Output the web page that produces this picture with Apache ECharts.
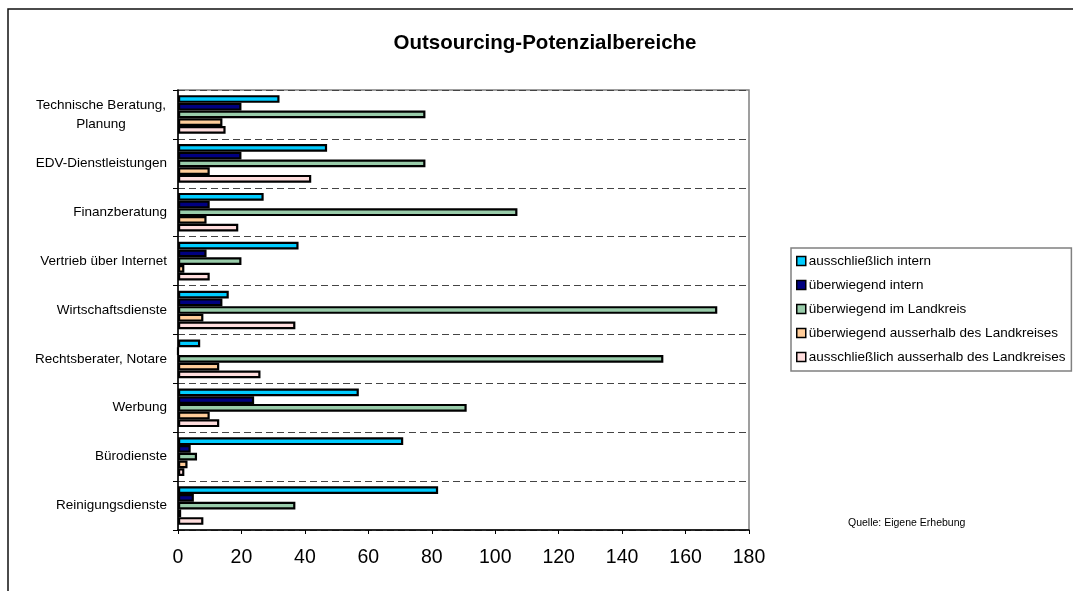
<!DOCTYPE html>
<html>
<head>
<meta charset="utf-8">
<script src="https://cdn.jsdelivr.net/npm/echarts@6/dist/echarts.min.js"></script>
<style>
  html, body { margin: 0; padding: 0; background: #fff; }
  #main { width: 1073px; height: 591px; }
</style>
</head>
<body>
<div id="main"></div>
<script>
// Kategorien (von oben nach unten)
var categories = [
  'Technische Beratung,\nPlanung',
  'EDV-Dienstleistungen',
  'Finanzberatung',
  'Vertrieb über Internet',
  'Wirtschaftsdienste',
  'Rechtsberater, Notare',
  'Werbung',
  'Bürodienste',
  'Reinigungsdienste'
]
var seriesNames = [
  'ausschließlich intern',
  'überwiegend intern',
  'überwiegend im Landkreis',
  'überwiegend ausserhalb des Landkreises',
  'ausschließlich ausserhalb des Landkreises'
]
var ausschliesslichIntern = [32, 47, 27, 38, 16, 7, 57, 71, 82]
var ueberwiegendIntern = [20, 20, 10, 9, 14, 0, 24, 4, 5]
var ueberwiegendLandkreis = [78, 78, 107, 20, 170, 153, 91, 6, 37]
var ueberwiegendAusserhalb = [14, 10, 9, 2, 8, 13, 10, 3, 1]
var ausschliesslichAusserhalb = [15, 42, 19, 10, 37, 26, 13, 2, 8]
var xTicks = [0, 20, 40, 60, 80, 100, 120, 140, 160, 180]

var colors = ['#00CCFF', '#000080', '#99CCAA', '#FFCC99', '#FFDDDD']
var values = [ausschliesslichIntern, ueberwiegendIntern, ueberwiegendLandkreis,
  ueberwiegendAusserhalb, ausschliesslichAusserhalb]

var font = 'Arial, "Liberation Sans", sans-serif'

var series = seriesNames.map(function (name, i) {
  return {
    name: name,
    type: 'bar',
    data: values[i],
    barGap: '0%',
    barCategoryGap: '21%',
    itemStyle: { color: colors[i], borderColor: '#000', borderWidth: 2.2 }
  }
})

var myChart = echarts.init(document.getElementById('main'))

var option = {
  backgroundColor: '#fff',
  animation: false,
  title: {
    text: 'Outsourcing-Potenzialbereiche',
    left: 540,
    textAlign: 'center',
    top: 28,
    textStyle: { fontFamily: font, fontSize: 20.5, fontWeight: 'bold', color: '#000' }
  },
  legend: {
    orient: 'vertical',
    left: 791,
    top: 248,
    padding: [6, 6, 7, 5],
    itemWidth: 9,
    itemHeight: 9,
    itemGap: 10,
    icon: 'rect',
    borderColor: '#808080',
    borderWidth: 1.5,
    textStyle: { fontFamily: font, fontSize: 13.5, color: '#000', padding: [0, 0, 0, -2] },
    itemStyle: { borderColor: '#000', borderWidth: 1.5 },
    data: seriesNames
  },
  grid: {
    left: 178,
    top: 90,
    right: 324,
    bottom: 61,
    show: true,
    borderColor: '#808080',
    borderWidth: 1.5,
    containLabel: false
  },
  xAxis: {
    type: 'value',
    min: xTicks[0],
    max: xTicks[xTicks.length - 1],
    interval: 20,
    axisLine: { show: true, lineStyle: { color: '#000', width: 1.5 } },
    axisTick: { show: true, length: 4, lineStyle: { color: '#000' } },
    axisLabel: { fontFamily: font, fontSize: 19.5, color: '#000', margin: 18 },
    splitLine: { show: false }
  },
  yAxis: {
    type: 'category',
    inverse: true,
    data: categories,
    axisLine: { show: true, lineStyle: { color: '#000', width: 1.5 } },
    axisTick: { show: true, length: 5, interval: 0, lineStyle: { color: '#000' } },
    axisLabel: {
      interval: 0,
      margin: 11,
      fontFamily: font,
      fontSize: 13.5,
      color: '#000',
      formatter: function (v) {
        if (v.indexOf('\n') < 0) return v
        return v.split('\n').map(function (s) { return '{c|' + s + '}' }).join('\n')
      },
      rich: {
        c: { width: 132, align: 'center', lineHeight: 19, fontFamily: font, fontSize: 13.5, color: '#000' }
      }
    },
    splitLine: {
      show: true,
      interval: 0,
      lineStyle: { color: '#444', type: [7, 4], width: 1 }
    }
  },
  graphic: [
    {
      type: 'rect',
      shape: { x: 8, y: 9, width: 1200, height: 700 },
      style: { fill: null, stroke: '#111', lineWidth: 1.5 },
      silent: true
    },
    {
      type: 'text',
      left: 848,
      top: 518,
      style: { text: 'Quelle: Eigene Erhebung', fontFamily: font, fontSize: 10.5, fill: '#000' }
    }
  ],
  series: series
}

option && myChart.setOption(option)
</script>
</body>
</html>
